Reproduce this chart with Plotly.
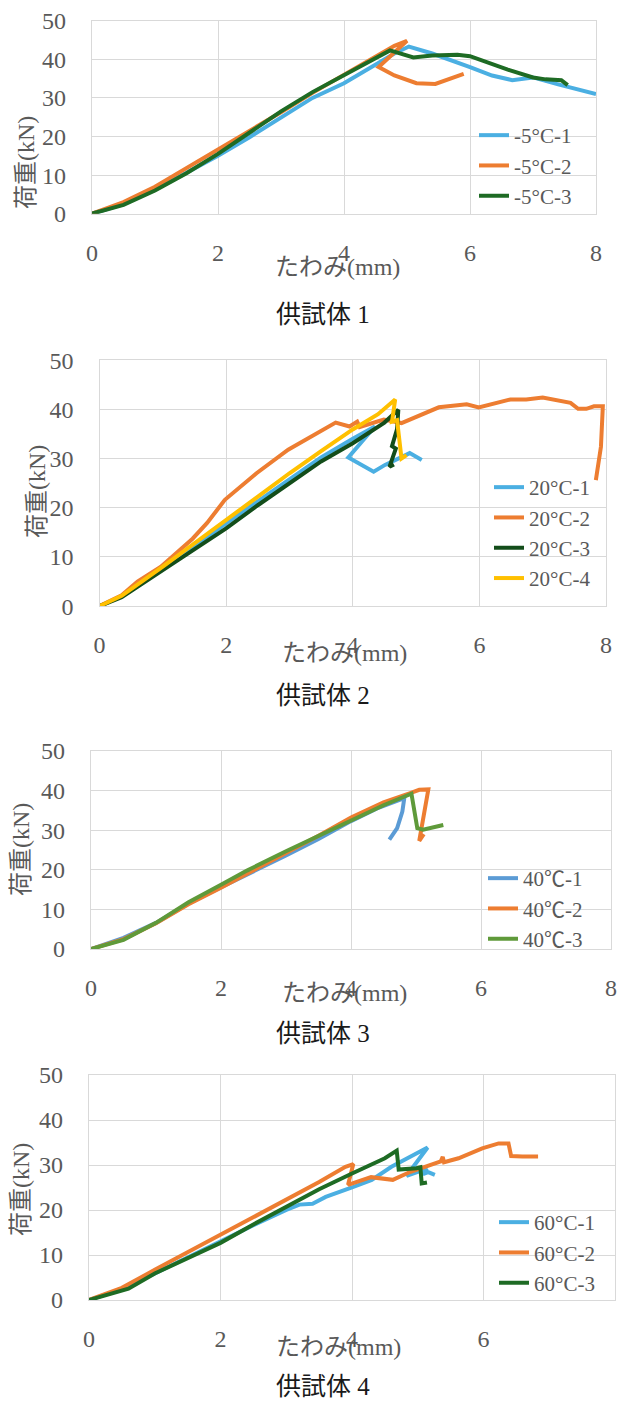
import plotly.graph_objects as go

# The page body has an 8 px margin, so the figure is drawn 8 px in from the window edge.
OFF = 8
W, H = 625 - 2 * OFF, 1412 - 2 * OFF

# ---------------- data ----------------
# 供試体 1
x_m5_1 = [0, 0.5, 1.0, 1.5, 2.0, 2.5, 3.0, 3.5, 4.0, 4.5, 4.8, 5.03, 5.4, 6.0, 6.35, 6.67, 7.0, 7.4, 8.0]
y_m5_1 = [0, 2.5, 6.2, 10.5, 15.0, 19.8, 24.8, 30.0, 33.8, 38.5, 41.5, 43.3, 41.5, 38.0, 35.8, 34.6, 35.3, 33.5, 31.0]
x_m5_2 = [0, 0.5, 1.0, 1.5, 2.0, 2.5, 3.0, 3.5, 4.0, 4.5, 4.8, 5.0, 4.55, 4.8, 5.15, 5.45, 5.9]
y_m5_2 = [0, 3.0, 7.0, 11.8, 16.5, 21.3, 26.3, 31.3, 36.0, 40.8, 43.5, 44.8, 38.0, 35.8, 33.8, 33.6, 36.2]
x_m5_3 = [0, 0.5, 1.0, 1.5, 2.0, 2.5, 3.0, 3.5, 4.0, 4.4, 4.73, 5.1, 5.4, 5.8, 6.0, 6.6, 7.0, 7.2, 7.45, 7.55]
y_m5_3 = [0, 2.3, 6.0, 10.5, 15.5, 21.0, 26.5, 31.5, 36.0, 39.5, 42.3, 40.5, 41.0, 41.2, 40.8, 37.3, 35.3, 34.8, 34.6, 33.3]

# 供試体 2
x_20_1 = [0, 0.35, 1.0, 1.5, 2.0, 2.5, 3.0, 3.5, 4.0, 4.35, 3.93, 4.33, 4.51, 4.9, 5.09]
y_20_1 = [0, 2.0, 7.6, 12.3, 16.8, 21.3, 25.8, 30.2, 34.0, 36.5, 30.2, 27.3, 28.7, 31.1, 29.7]
x_20_2 = [0, 0.35, 0.6, 0.97, 1.47, 1.7, 1.98, 2.48, 2.98, 3.42, 3.73, 3.95, 4.07, 4.11, 4.49, 4.77,
          5.11, 5.36, 5.8, 5.99, 6.49, 6.74, 7.0, 7.44, 7.56, 7.69, 7.81, 7.95, 7.92, 7.84]
y_20_2 = [0, 2.2, 5.0, 8.0, 13.7, 16.9, 21.6, 27.0, 31.8, 35.0, 37.3, 36.5, 37.5, 36.4, 37.9, 37.2,
          39.1, 40.4, 41.0, 40.4, 42.0, 42.0, 42.4, 41.3, 40.1, 40.1, 40.6, 40.6, 32.4, 25.6]
x_20_3 = [0, 0.35, 1.0, 1.5, 2.0, 2.5, 3.0, 3.5, 4.0, 4.5, 4.72, 4.70, 4.62, 4.68, 4.58, 4.65]
y_20_3 = [0, 1.8, 7.3, 11.6, 15.8, 20.5, 25.0, 29.4, 33.1, 37.3, 39.9, 36.0, 32.5, 32.0, 28.3, 28.8]
x_20_4 = [0, 0.35, 1.0, 1.5, 2.0, 2.5, 3.0, 3.5, 4.0, 4.4, 4.67, 4.62, 4.70, 4.77, 4.85]
y_20_4 = [0, 2.1, 8.0, 12.8, 17.5, 22.2, 27.0, 31.5, 35.9, 39.0, 42.0, 37.5, 37.8, 30.0, 30.7]

# 供試体 3
x_40_1 = [0, 0.5, 1.0, 1.5, 2.0, 2.5, 3.0, 3.5, 4.0, 4.4, 4.7, 4.82, 4.79, 4.71, 4.59]
y_40_1 = [0, 2.8, 6.6, 11.5, 15.6, 19.5, 23.6, 27.8, 32.3, 35.5, 37.3, 38.1, 34.7, 30.5, 27.6]
x_40_2 = [0, 0.5, 1.0, 1.5, 2.0, 2.5, 3.0, 3.5, 4.0, 4.5, 4.9, 5.05, 5.19, 5.05, 5.12]
y_40_2 = [0, 2.5, 6.5, 11.3, 15.5, 19.8, 24.2, 28.6, 33.2, 37.0, 39.3, 40.2, 40.3, 27.3, 29.0]
x_40_3 = [0, 0.5, 1.0, 1.5, 2.0, 2.4, 3.0, 3.5, 3.8, 4.0, 4.5, 4.93, 5.02, 5.11, 5.42]
y_40_3 = [0, 2.3, 6.6, 11.8, 16.2, 19.8, 24.7, 28.6, 30.8, 32.5, 36.3, 39.2, 30.5, 30.1, 31.3]

# 供試体 4
x_60_1 = [0, 0.5, 1.0, 1.5, 2.0, 2.5, 3.0, 3.2, 3.4, 3.6, 4.0, 4.3, 4.6, 4.9, 5.15, 4.83, 5.14, 5.08, 5.16, 5.26]
y_60_1 = [0, 2.4, 5.9, 9.5, 13.0, 16.6, 20.0, 21.2, 21.4, 22.9, 25.0, 26.7, 29.6, 32.0, 33.9, 27.6, 29.2, 28.0, 28.4, 27.8]
x_60_2 = [0, 0.5, 1.0, 1.5, 2.0, 2.5, 3.0, 3.5, 3.9, 4.02, 3.94, 4.29, 4.62, 4.89, 5.35, 5.38, 5.4, 5.62,
          5.98, 6.23, 6.38, 6.42, 6.59, 6.83]
y_60_2 = [0, 2.7, 6.7, 10.6, 14.4, 18.4, 22.2, 26.2, 29.6, 30.2, 25.6, 27.3, 26.7, 28.5, 30.8, 31.8, 30.6, 31.5,
          33.7, 34.8, 34.8, 32.0, 31.9, 31.9]
x_60_3 = [0, 0.6, 1.0, 1.5, 2.0, 2.5, 3.0, 3.5, 4.0, 4.5, 4.68, 4.71, 4.98, 5.04, 5.06, 5.14]
y_60_3 = [0, 2.5, 5.9, 9.3, 12.7, 16.8, 20.7, 24.6, 28.1, 31.5, 33.2, 29.0, 29.3, 29.5, 25.9, 26.1]

x_ticks = [0, 2, 4, 6, 8]
y_ticks = [0, 10, 20, 30, 40, 50]
x_title = "たわみ(mm)"
y_title = "荷重(kN)"
captions = ["供試体 1", "供試体 2", "供試体 3", "供試体 4"]

# ---------------- style ----------------
LBLUE = "#4BAFE2"
ORANGE = "#ED7D31"
DGREEN = "#1E6B24"
DGREEN2 = "#134D1A"
YELLOW = "#FFC000"
BLUE3 = "#5B9BD5"
GREEN3 = "#5F9A3A"
GRAY = "#595959"
GRID = "#D9D9D9"
FONT = "Liberation Serif, Noto Sans CJK JP, serif"

# window-pixel positions
panels = [
    dict(series=[("-5°C-1", x_m5_1, y_m5_1, LBLUE), ("-5°C-2", x_m5_2, y_m5_2, ORANGE),
                 ("-5°C-3", x_m5_3, y_m5_3, DGREEN)],
         px=(92, 596), py=(20.7, 213.7), leg=(474, 115), xt=(337, 267), yt=(26, 163), cap=(323, 315)),
    dict(series=[("20°C-1", x_20_1, y_20_1, LBLUE), ("20°C-2", x_20_2, y_20_2, ORANGE),
                 ("20°C-3", x_20_3, y_20_3, DGREEN2), ("20°C-4", x_20_4, y_20_4, YELLOW)],
         px=(99.5, 606), py=(360.1, 606.1), leg=(489, 467), xt=(344, 653), yt=(37, 492), cap=(323, 695)),
    dict(series=[("40℃-1", x_40_1, y_40_1, BLUE3), ("40℃-2", x_40_2, y_40_2, ORANGE),
                 ("40℃-3", x_40_3, y_40_3, GREEN3)],
         px=(91, 611), py=(751, 949), leg=(483, 858), xt=(344, 993), yt=(21, 850), cap=(323, 1033)),
    dict(series=[("60°C-1", x_60_1, y_60_1, LBLUE), ("60°C-2", x_60_2, y_60_2, ORANGE),
                 ("60°C-3", x_60_3, y_60_3, DGREEN)],
         px=(89, 615), py=(1075, 1300), leg=(494, 1202), xt=(338, 1347), yt=(21, 1190), cap=(323, 1386)),
]


def fx(v):
    return (v - OFF) / W


def fy(v):
    return 1 - (v - OFF) / H


fig = go.Figure()
layout = dict(width=W, height=H, margin=dict(l=0, r=0, t=0, b=0, autoexpand=False),
              paper_bgcolor="white", plot_bgcolor="white", showlegend=True,
              font=dict(family=FONT, color=GRAY, size=23))
annotations = []

for i, p in enumerate(panels):
    n = i + 1
    suf = "" if n == 1 else str(n)
    lg = "legend" if n == 1 else f"legend{n}"
    for name, xs, ys, col in p["series"]:
        fig.add_trace(go.Scatter(x=xs, y=ys, mode="lines", name=name,
                                 line=dict(color=col, width=4),
                                 xaxis="x" + suf, yaxis="y" + suf, legend=lg))
    x0, x1 = p["px"]
    y0, y1 = p["py"]
    axcommon = dict(showgrid=True, gridcolor=GRID, gridwidth=1.3, zeroline=False,
                    showline=True, linecolor=GRID, linewidth=1.3, mirror=True, automargin=False,
                    tickfont=dict(family=FONT, size=24, color=GRAY), ticks="")
    layout["xaxis" + suf] = dict(domain=[fx(x0), fx(x1)], range=[0, 8], tickvals=x_ticks,
                                 anchor="y" + suf, ticklabelstandoff=17, **axcommon)
    layout["yaxis" + suf] = dict(domain=[fy(y1), fy(y0)], range=[0, 50], tickvals=y_ticks,
                                 anchor="x" + suf, ticklabelstandoff=20, **axcommon)
    lx, ly = p["leg"]
    layout[lg] = dict(x=fx(lx), y=fy(ly), xanchor="left", yanchor="top",
                      bgcolor="rgba(0,0,0,0)", font=dict(family=FONT, size=21, color=GRAY),
                      tracegroupgap=0, itemclick=False)
    annotations.append(dict(text=x_title, x=fx(p["xt"][0]), y=fy(p["xt"][1]), xref="paper", yref="paper",
                            showarrow=False, font=dict(family=FONT, size=24, color=GRAY),
                            xanchor="center", yanchor="middle"))
    annotations.append(dict(text=y_title, x=fx(p["yt"][0]), y=fy(p["yt"][1]), xref="paper", yref="paper",
                            showarrow=False, textangle=-90, font=dict(family=FONT, size=24, color=GRAY),
                            xanchor="center", yanchor="middle"))
    annotations.append(dict(text=captions[i], x=fx(p["cap"][0]), y=fy(p["cap"][1]), xref="paper", yref="paper",
                            showarrow=False, font=dict(family=FONT, size=25, color="#1a1a1a"),
                            xanchor="center", yanchor="middle"))

layout["annotations"] = annotations
fig.update_layout(**layout)
fig.write_html("out.html")
